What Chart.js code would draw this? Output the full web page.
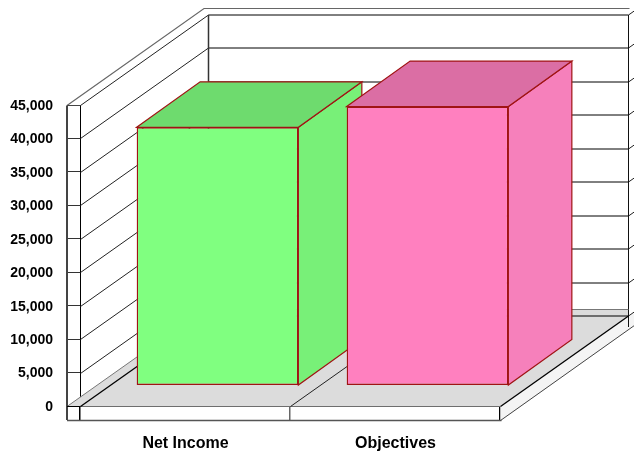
<!DOCTYPE html>
<html><head><meta charset="utf-8">
<style>html,body{margin:0;padding:0;background:#fff}canvas{display:block}</style>
<script src="https://cdn.jsdelivr.net/npm/chart.js@4/dist/chart.umd.min.js"></script>
</head><body><canvas id="c" width="634" height="453"></canvas>
<script>
const categories = ["Net Income", "Objectives"];
const values = [38600, 41700];
const axisMax = 45000;
const axisStep = 5000;
const frontColors = ["#80FF80", "#FF80BF"];
const topColors = ["#6EDB6E", "#DB6EA4"];
const sideColors = ["#78F078", "#F680BB"];
const edgeColor = "#A01414";
const depth = {dx: 128, dy: -90.5};
const barShift = {x: 32.5, y: -20.5};
const barDepth = {x: 63.5, y: -45.5};
const outerX = 67, axisBottom = 420;

function seg(ctx, pts, color, w) {
  ctx.beginPath();
  pts.forEach((p, i) => i ? ctx.lineTo(p[0], p[1]) : ctx.moveTo(p[0], p[1]));
  ctx.strokeStyle = color; ctx.lineWidth = w; ctx.stroke();
}
function poly(ctx, pts, fill, stroke) {
  ctx.beginPath();
  pts.forEach((p, i) => i ? ctx.lineTo(p[0], p[1]) : ctx.moveTo(p[0], p[1]));
  ctx.closePath();
  ctx.fillStyle = fill; ctx.fill();
  if (stroke) { ctx.strokeStyle = stroke; ctx.lineWidth = 1.2; ctx.stroke(); }
}
const box3d = {
  id: "box3d",
  beforeDatasetsDraw(chart) {
    const ctx = chart.ctx, a = chart.chartArea, y = chart.scales.y, x = chart.scales.x;
    const L = a.left + .5, R = a.right + .5, B = Math.round(y.getPixelForValue(0)) + .5;
    const T = Math.round(y.getPixelForValue(axisMax)) + .5;
    const dx = depth.dx, dy = depth.dy;
    const backB = B + dy, backT = T + dy, outerBackX = L + dx - 4.5, outerBackT = T - 97, outerBackB = B - 97;
    ctx.save();
    // floor
    poly(ctx, [[outerX, B], [R, B], [R + dx, backB], [R + dx, outerBackB], [outerBackX, outerBackB]], "#DCDCDC");
    // right lip of the floor
    poly(ctx, [[R, B], [R + dx, backB], [640, backB - 8], [640, axisBottom - 98.5], [R + 1, axisBottom + .5], [R, axisBottom + .5]], "#F4F4F4");
    // walls
    y.ticks.forEach(t => {
      const py = Math.round(y.getPixelForValue(t.value)) + .5;
      if (t.value > 0) seg(ctx, [[L, py], [L + dx, py + dy]], "#222", 1);
      seg(ctx, [[L + dx, py + dy], [R + dx, py + dy]], "#000", 1);
      seg(ctx, [[R + dx, py + dy], [R + dx + 8, py + dy - 5.6]], "#222", 1);
    });
    seg(ctx, [[L + dx, backT], [L + dx, backB]], "#333", 1.5);
    seg(ctx, [[R + dx, backT], [R + dx, backB + 11]], "#111", 1);
    seg(ctx, [[outerX, T], [outerBackX, outerBackT], [R + dx + 1, outerBackT]], "#666", 1.2);
    seg(ctx, [[outerX, B], [outerBackX, outerBackB], [R + dx, outerBackB]], "#777", 1);
    // outer strip at the left and under the floor
    seg(ctx, [[outerX, T], [outerX, axisBottom]], "#444", 2);
    seg(ctx, [[outerX, T], [L, T]], "#444", 1);
    seg(ctx, [[outerX, B], [L, B]], "#000", 1);
    seg(ctx, [[outerX, axisBottom + .5], [R + 1, axisBottom + .5]], "#555", 1.5);
    seg(ctx, [[R, axisBottom + .5], [640, axisBottom - 98.5]], "#444", 1);
    // floor lines
    seg(ctx, [[L, B], [L + dx, backB]], "#000", 1.3);
    x.ticks.forEach((t, i) => {
      const px = Math.round((x.getPixelForTick(i) + x.getPixelForTick(Math.max(i - 1, 0))) / 2) + .5;
      if (i) seg(ctx, [[px, B], [px + dx, backB]], "#222", 1);
    });
    seg(ctx, [[R, B], [R + dx, backB]], "#000", 1.3);
    // bar sides and tops, drawn back-to-front
    const bars = chart.getDatasetMeta(0).data;
    bars.forEach((b, i) => {
      const d = barDepth;
      const x0 = b.x - b.width / 2 + barShift.x, x1 = b.x + b.width / 2 + barShift.x;
      const y0 = b.y + barShift.y, y1 = b.base + barShift.y;
      poly(ctx, [[x1, y0], [x1 + d.x, y0 + d.y], [x1 + d.x, y1 + d.y], [x1, y1]], sideColors[i], edgeColor);
      poly(ctx, [[x0, y0], [x0 + d.x, y0 + d.y], [x1 + d.x, y0 + d.y], [x1, y0]], topColors[i], edgeColor);
    });
    ctx.restore();
  },
  beforeDatasetDraw(chart) {
    chart.ctx.save();
    chart.ctx.translate(barShift.x, barShift.y);
  },
  afterDatasetDraw(chart) {
    chart.ctx.restore();
  }
};
new Chart(document.getElementById("c"), {
  type: "bar",
  data: {labels: categories, datasets: [{
    data: values, backgroundColor: frontColors, borderColor: edgeColor,
    borderWidth: 1.4, borderSkipped: false, barPercentage: 0.77, categoryPercentage: 1, clip: false
  }]},
  plugins: [box3d],
  options: {
    responsive: false, animation: false,
    layout: {padding: {left: 0, top: 105, right: 134, bottom: 0}},
    plugins: {legend: {display: false}, tooltip: {enabled: false}, title: {display: false}},
    scales: {
      x: {
        afterFit(s) { s.height = 47; },
        grid: {drawOnChartArea: false, tickLength: 14, color: (c) => c.index === 1 ? "#666" : "#000", lineWidth: 1.5},
        border: {color: "#000", width: 1},
        ticks: {color: "#000", padding: 14, labelOffset: 0.5, maxRotation: 0, font: {family: "Liberation Sans", size: 16, weight: "bold"}}
      },
      y: {
        min: 0, max: axisMax,
        afterFit(s) { s.width = 80; },
        grid: {drawOnChartArea: false, tickLength: 13, color: "#333"},
        border: {color: "#000", width: 1},
        ticks: {stepSize: axisStep, color: "#000", padding: 14, labelOffset: 1,
          callback: v => v.toLocaleString("en-US"),
          font: {family: "Liberation Sans", size: 14, weight: "bold"}}
      }
    }
  }
});
</script></body></html>
